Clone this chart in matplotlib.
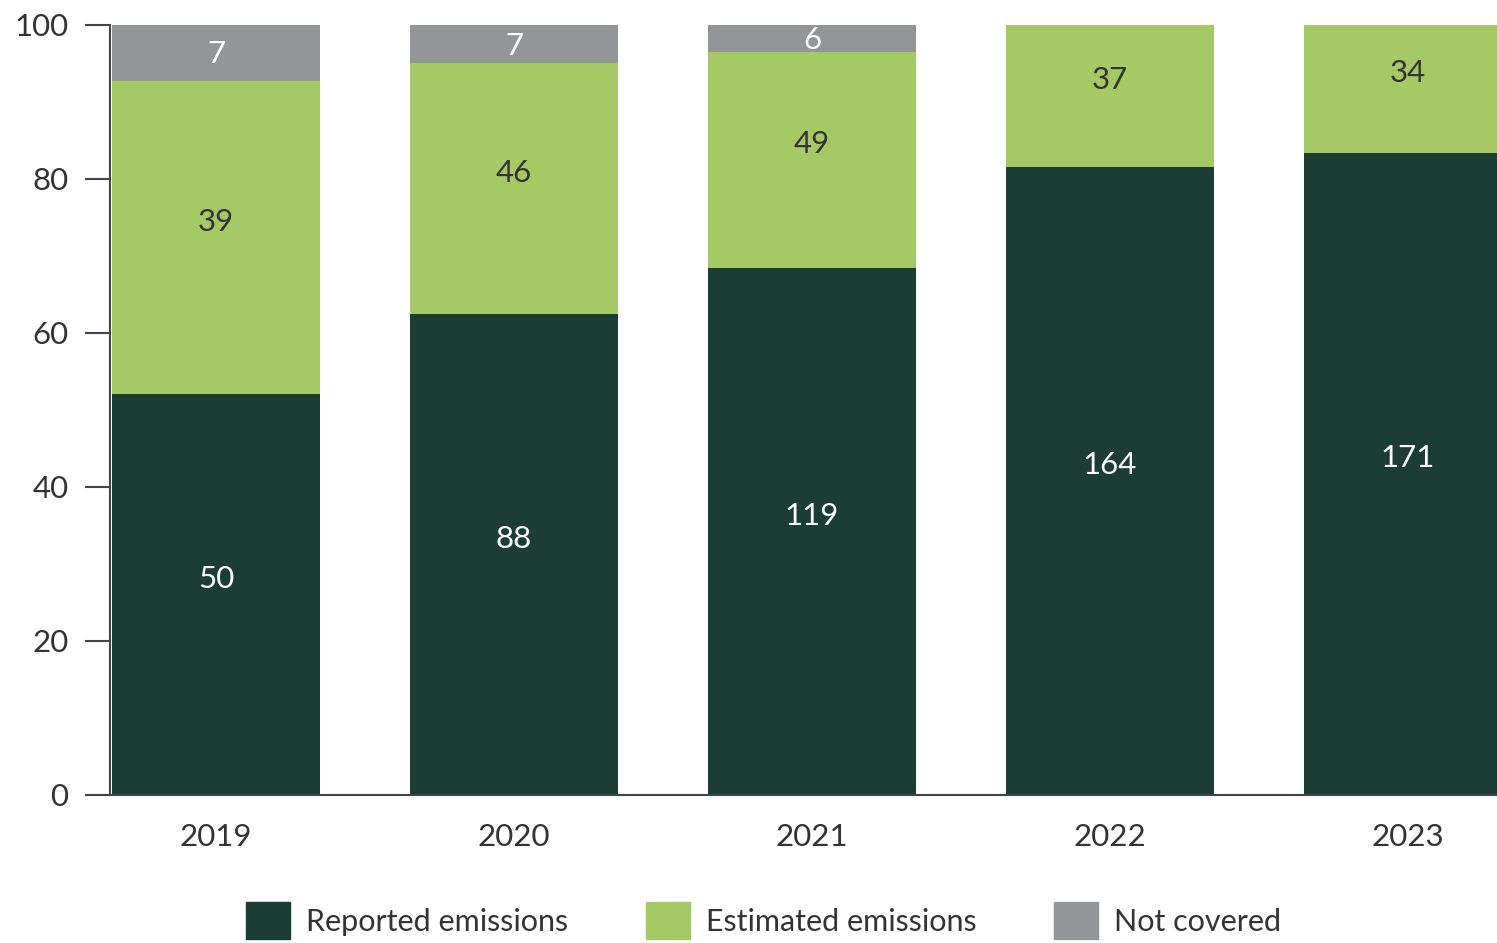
import numpy as np
import matplotlib.pyplot as plt
from matplotlib.patches import Patch

years = ["2019", "2020", "2021", "2022", "2023"]
reported = [50, 88, 119, 164, 171]
estimated = [39, 46, 49, 37, 34]
not_covered = [7, 7, 6, 0, 0]

dark = "#1b3d34"
light = "#a5ca65"
grey = "#939598"
txt = "#333333"

plt.rcParams['font.family'] = ['Lato', 'DejaVu Sans']
fs = 22.5

counts = np.array([reported, estimated, not_covered], dtype=float)
share = counts / counts.sum(axis=0) * 100

fig = plt.figure(figsize=(14.97, 9.43), dpi=100)
ax = fig.add_axes([110 / 1497, 148 / 943, 1 - 110 / 1497, 770 / 943])

x = np.arange(len(years))
w = 0.7
bottom = np.zeros(len(years))
for i, col in enumerate([dark, light, grey]):
    ax.bar(x, share[i], w, bottom=bottom, color=col, linewidth=0, zorder=2)
    for j in range(len(years)):
        if counts[i, j] == 0:
            continue
        yc = bottom[j] + share[i, j] / 2
        dy = -1 if i == 2 else 11.5
        ax.annotate(str(int(counts[i, j])), (x[j], yc), xytext=(0, dy),
                    textcoords="offset points", ha="center", va="center",
                    fontsize=fs, color="white" if i != 1 else txt)
    bottom += share[i]

ax.set_xlim(-106 / 298, (1497 - 216) / 298)
ax.set_ylim(0, 100)
ax.set_yticks([0, 20, 40, 60, 80, 100])
ax.set_xticks(x)
ax.set_xticklabels(years)
ax.tick_params(axis='y', length=18, width=1.5, color="#444444", labelsize=fs,
               labelcolor=txt, pad=12)
ax.tick_params(axis='x', length=0, labelsize=fs, labelcolor=txt, pad=20)
for s in ["top", "right"]:
    ax.spines[s].set_visible(False)
for s in ["left", "bottom"]:
    ax.spines[s].set_color("#444444")
    ax.spines[s].set_linewidth(1.5)
    ax.spines[s].set_zorder(3)

handles = [Patch(color=dark, label="Reported emissions"),
           Patch(color=light, label="Estimated emissions"),
           Patch(color=grey, label="Not covered")]
leg = fig.legend(handles=handles, loc="upper center", bbox_to_anchor=(0.51, 41 / 943),
                 ncol=3, frameon=False, fontsize=22, handlelength=1.44, handleheight=1.5,
                 handletextpad=0.52, columnspacing=2.55, borderaxespad=0, borderpad=0)
for t in leg.get_texts():
    t.set_color(txt)

fig.savefig("out.png", dpi=100)
